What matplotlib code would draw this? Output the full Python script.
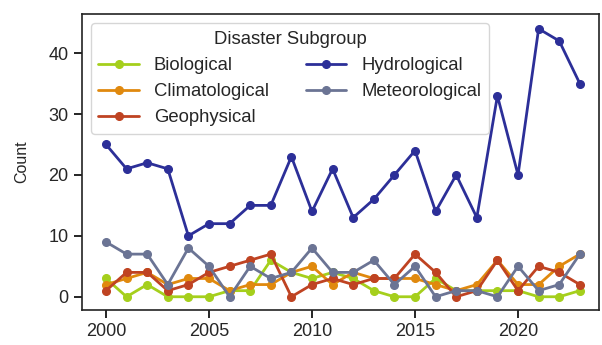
import matplotlib
matplotlib.use('Agg')
import matplotlib.pyplot as plt
import seaborn as sns

sns.set_style('ticks')
plt.rcParams['font.family'] = ['Liberation Sans', 'DejaVu Sans']

# ============ ДАННЫЕ ============
years = list(range(2000, 2024))

biological = [3, 0, 2, 0, 0, 0, 1, 1, 6, 4, 3, 4, 3, 1, 0, 0, 3, 1, 1, 1, 1, 0, 0, 1]
climatological = [2, 3, 4, 2, 3, 3, 1, 2, 2, 4, 5, 2, 4, 3, 3, 3, 2, 1, 2, 6, 2, 2, 5, 7]
geophysical = [1, 4, 4, 1, 2, 4, 5, 6, 7, 0, 2, 3, 2, 3, 3, 7, 4, 0, 1, 6, 1, 5, 4, 2]
hydrological = [25, 21, 22, 21, 10, 12, 12, 15, 15, 23, 14, 21, 13, 16, 20, 24, 14, 20, 13, 33, 20, 44, 42, 35]
meteorological = [9, 7, 7, 2, 8, 5, 0, 5, 3, 4, 8, 4, 4, 6, 2, 5, 0, 1, 1, 0, 5, 1, 2, 7]

series = [
    ('Biological', biological, '#a5cf1c'),
    ('Climatological', climatological, '#e0890e'),
    ('Geophysical', geophysical, '#bf4322'),
    ('Hydrological', hydrological, '#2c2f98'),
    ('Meteorological', meteorological, '#6b7494'),
]

# ============ ГРАФИК ============
fig = plt.figure(figsize=(6.02, 3.45), dpi=100)
ax = fig.add_axes([0.136, 0.101, 0.859, 0.858])

for name, values, color in series:
    ax.plot(years, values, marker='o', markersize=5.5, linewidth=2, color=color, label=name)

ax.set_xlim(1998.83, 2023.93)
ax.set_ylim(-2.2, 46.4)
ax.set_xticks([2000, 2005, 2010, 2015, 2020])
ax.set_yticks([0, 10, 20, 30, 40])
ax.tick_params(labelsize=13, length=6, width=1.2, color='black')
ax.set_ylabel('Count', fontsize=11.5, labelpad=14)
for sp in ax.spines.values():
    sp.set_color('#222222')
    sp.set_linewidth(1.2)

leg = ax.legend(title='Disaster Subgroup', ncol=2, loc='upper left', fontsize=13.3,
                title_fontsize=13.3, frameon=True, handlelength=2.2, handletextpad=0.8,
                columnspacing=2.0, labelspacing=0.5, borderaxespad=0.5)

fig.savefig('out.png', dpi=100)
